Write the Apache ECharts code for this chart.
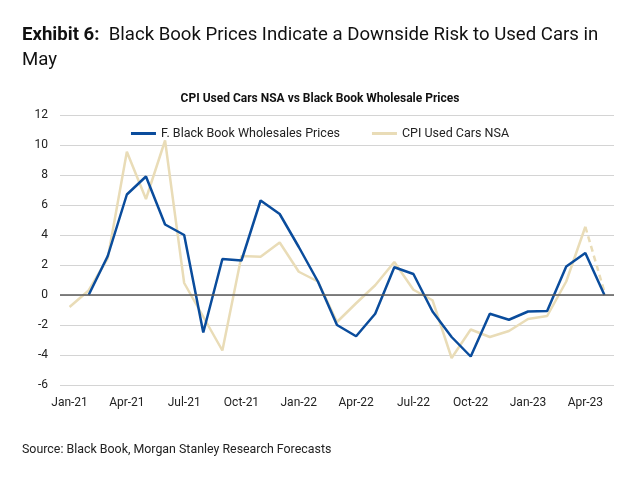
<!DOCTYPE html>
<html><head><meta charset="utf-8">
<script src="https://cdn.jsdelivr.net/npm/echarts@6/dist/echarts.min.js"></script>
<style>html,body{margin:0;padding:0;background:#fff}#c{width:640px;height:477px}</style>
</head><body><div id="c"></div>
<script>
const months = ['Jan-21','Feb-21','Mar-21','Apr-21','May-21','Jun-21','Jul-21','Aug-21','Sep-21','Oct-21','Nov-21','Dec-21',
  'Jan-22','Feb-22','Mar-22','Apr-22','May-22','Jun-22','Jul-22','Aug-22','Sep-22','Oct-22','Nov-22','Dec-22',
  'Jan-23','Feb-23','Mar-23','Apr-23','May-23'];
const blackBook = [null,0,2.6,6.7,7.9,4.7,4.0,-2.5,2.4,2.3,6.3,5.4,
  3.2,0.9,-2.0,-2.75,-1.25,1.85,1.4,-1.1,-2.8,-4.1,-1.25,-1.65,
  -1.1,-1.07,1.9,2.8,0];
const cpiUsed = [-0.8,0.3,2.45,9.55,6.4,10.3,0.8,-1.45,-3.7,2.6,2.55,3.5,
  1.55,0.9,-1.8,-0.55,0.65,2.2,0.35,-0.35,-4.2,-2.3,-2.8,-2.4,
  -1.6,-1.4,0.9,4.55,null];
const cpiForecast = [null,null,null,null,null,null,null,null,null,null,null,null,
  null,null,null,null,null,null,null,null,null,null,null,null,
  null,null,null,4.55,0.2];
const yTicks = {min:-6, max:12, interval:2};

const BLUE = '#0a4c9c', BEIGE = '#e9dcb7';
const chart = echarts.init(document.getElementById('c'), null, {renderer:'canvas'});
chart.setOption({
  backgroundColor:'#fff',
  animation:false,
  textStyle:{fontFamily:'Roboto'},
  title:[
    {text:'{b|Exhibit 6:}  Black Book Prices Indicate a Downside Risk to Used Cars in\nMay', left:22, top:23, padding:0,
     textStyle:{fontFamily:'Roboto', fontSize:18.6, fontWeight:'normal', color:'#111', lineHeight:25,
       rich:{b:{fontFamily:'Roboto', fontSize:18.6, fontWeight:'bold', color:'#111'}}}},
    {text:'CPI Used Cars NSA vs Black Book Wholesale Prices', left:'center', top:93, padding:0,
     textStyle:{fontFamily:'Roboto', fontSize:12, fontWeight:'bold', color:'#111'}},
    {text:'Source: Black Book, Morgan Stanley Research Forecasts', left:22, top:444, padding:0,
     textStyle:{fontFamily:'Roboto', fontSize:12.4, fontWeight:'normal', color:'#222'}}
  ],
  legend:{data:['F. Black Book Wholesales Prices','CPI Used Cars NSA'], top:122, left:'center',
    icon:'rect', itemWidth:25, itemHeight:3, itemGap:32,
    textStyle:{fontFamily:'Roboto', fontSize:12.5, color:'#222'}},
  grid:{left:60, right:26, top:115, bottom:92},
  xAxis:{type:'category', data:months, boundaryGap:true,
    axisLine:{show:false}, axisTick:{show:false},
    axisLabel:{interval:2, color:'#222', fontSize:12, margin:12, fontFamily:'Roboto'},
    splitLine:{show:false}},
  yAxis:{type:'value', min:yTicks.min, max:yTicks.max, interval:yTicks.interval,
    axisLine:{show:false}, axisTick:{show:false},
    axisLabel:{color:'#222', fontSize:12, margin:12, fontFamily:'Roboto'},
    splitLine:{lineStyle:{color:'#d4d4d4', width:1}}},
  series:[
    {name:'CPI Used Cars NSA', type:'line', data:cpiUsed, symbol:'none', z:2,
     lineStyle:{color:BEIGE, width:2.5}, itemStyle:{color:BEIGE},
     markLine:{silent:true, symbol:'none', label:{show:false}, data:[{yAxis:0}],
       lineStyle:{color:'#5a5a5a', width:1.5, type:'solid'}}},
    {name:'CPI Used Cars NSA forecast', type:'line', data:cpiForecast, symbol:'none', z:2,
     lineStyle:{color:BEIGE, width:2.5, type:[6,4]}, itemStyle:{color:BEIGE}},
    {name:'F. Black Book Wholesales Prices', type:'line', data:blackBook, symbol:'none', z:3,
     lineStyle:{color:BLUE, width:2.5}, itemStyle:{color:BLUE}}
  ]
});
</script></body></html>
